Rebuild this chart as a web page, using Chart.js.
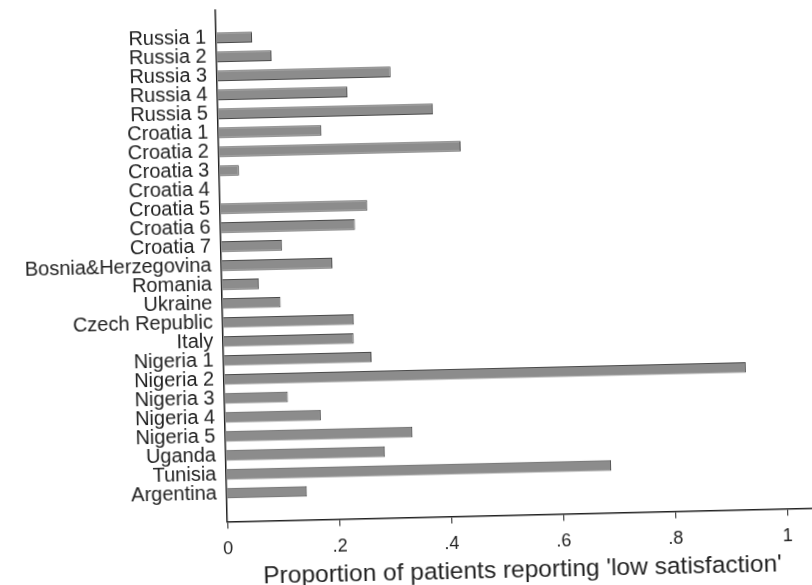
<!DOCTYPE html>
<html>
<head>
<meta charset="utf-8">
<script src="https://cdn.jsdelivr.net/npm/chart.js@4.4.0/dist/chart.umd.min.js"></script>
<style>
    html, body { margin: 0; padding: 0; background: #fff; overflow: hidden; }
    #chart { display: block; transform: rotate(-1.33deg); transform-origin: 50% 50%; }
</style>
</head>
<body>
<canvas id="chart" width="812" height="585"></canvas>
<script>
const categories = [
    'Russia 1', 'Russia 2', 'Russia 3', 'Russia 4', 'Russia 5',
    'Croatia 1', 'Croatia 2', 'Croatia 3', 'Croatia 4', 'Croatia 5', 'Croatia 6', 'Croatia 7',
    'Bosnia&Herzegovina', 'Romania', 'Ukraine', 'Czech Republic', 'Italy',
    'Nigeria 1', 'Nigeria 2', 'Nigeria 3', 'Nigeria 4', 'Nigeria 5',
    'Uganda', 'Tunisia', 'Argentina'
];

const lowSatisfaction = [
    0.064, 0.098, 0.31, 0.232, 0.384,
    0.184, 0.432, 0.035, 0, 0.263, 0.24, 0.109,
    0.198, 0.066, 0.104, 0.234, 0.233,
    0.264, 0.932, 0.113, 0.171, 0.334,
    0.284, 0.6875, 0.143
];

const xTicks = [0, 0.2, 0.4, 0.6, 0.8, 1];
const xTickLabels = ['0', '.2', '.4', '.6', '.8', '1'];

const fontFamily = "'Liberation Sans', Arial, Helvetica, sans-serif";
const ink = '#222';

new Chart(document.getElementById('chart').getContext('2d'), {
    type: 'bar',
    data: {
        datasets: [{
            data: categories.map((c, i) => ({ x: lowSatisfaction[i], y: i })),
            backgroundColor: '#8c8c8c',
            borderColor: '#4a4a4a',
            borderWidth: 1,
            barPercentage: 0.56,
            categoryPercentage: 1,
        }]
    },
    options: {
        indexAxis: 'y',
        responsive: false,
        animation: false,
        devicePixelRatio: 1,
        layout: {
            padding: { top: 5.6, right: 2, bottom: 0, left: 0 }
        },
        plugins: {
            legend: { display: false },
            tooltip: { enabled: false },
        },
        scales: {
            x: {
                type: 'linear',
                min: 0,
                max: 1.05,
                afterFit: scale => {
                    scale.height = 67.5;
                    scale.paddingLeft = 0;
                    scale.paddingRight = 0;
                },
                afterBuildTicks: scale => { scale.ticks = xTicks.map(v => ({ value: v })); },
                ticks: {
                    color: ink,
                    padding: 10,
                    maxRotation: 0,
                    font: { family: fontFamily, size: 18 },
                    callback: (value) => xTickLabels[xTicks.indexOf(value)],
                },
                grid: {
                    drawOnChartArea: false,
                    drawTicks: true,
                    tickLength: 7,
                    color: ink,
                },
                border: { display: true, color: ink, width: 1.5 },
                title: {
                    display: true,
                    text: "Proportion of patients reporting 'low satisfaction'",
                    color: ink,
                    padding: { top: 0, bottom: 0 },
                    font: { family: fontFamily, size: 24.5, lineHeight: 1 },
                }
            },
            y: {
                type: 'linear',
                reverse: true,
                offset: false,
                min: -1.48,
                max: 25.5,
                afterFit: scale => {
                    scale.width = 222.2;
                    scale.paddingTop = 0;
                    scale.paddingBottom = 0;
                },
                afterBuildTicks: scale => { scale.ticks = categories.map((c, i) => ({ value: i })); },
                ticks: {
                    color: ink,
                    padding: 10,
                    autoSkip: false,
                    font: { family: fontFamily, size: 20 },
                    callback: (value) => categories[value],
                },
                grid: { display: false, drawTicks: false, offset: false },
                border: { display: true, color: ink, width: 1.5 },
            }
        }
    }
});
</script>
</body>
</html>
